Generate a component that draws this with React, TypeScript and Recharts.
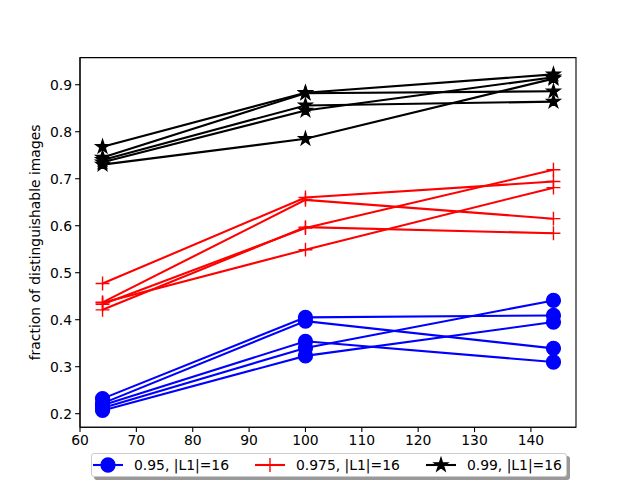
import React from "react";
import { LineChart, Line, XAxis, YAxis, Legend, ReferenceArea } from "recharts";

if (typeof document !== "undefined") {
  document.body.style.margin = "0";
}

// ---- data ----
const xValues = [64, 100, 144];
const xTicks = [60, 70, 80, 90, 100, 110, 120, 130, 140];
const yTicks = [0.2, 0.3, 0.4, 0.5, 0.6, 0.7, 0.8, 0.9];
const xDomain = [60, 148];
const yDomain = [0.17125, 0.95775];

const blue95 = [
  [0.232, 0.405, 0.409],
  [0.222, 0.397, 0.339],
  [0.218, 0.354, 0.31],
  [0.212, 0.34, 0.441],
  [0.207, 0.323, 0.395],
];
const red975 = [
  [0.477, 0.66, 0.694],
  [0.437, 0.655, 0.615],
  [0.433, 0.595, 0.719],
  [0.421, 0.597, 0.584],
  [0.436, 0.549, 0.681],
];
const black99 = [
  [0.768, 0.883, 0.922],
  [0.745, 0.882, 0.886],
  [0.74, 0.856, 0.864],
  [0.735, 0.845, 0.916],
  [0.73, 0.785, 0.913],
];
const legendLabels = ["0.95, |L1|=16", "0.975, |L1|=16", "0.99, |L1|=16"];
const yLabel = "fraction of distinguishable images";

const FONT = "'DejaVu Sans', sans-serif";
const MS = 6.94; // marker half-size in px
const MEW = 1.39;

type MarkerKind = "circle" | "plus" | "star";

function Marker({ kind, cx, cy, color }: { kind: MarkerKind; cx: number; cy: number; color: string }) {
  if (kind === "circle") {
    return <circle cx={cx} cy={cy} r={MS} fill={color} stroke={color} strokeWidth={MEW} />;
  }
  if (kind === "plus") {
    return (
      <g stroke={color} strokeWidth={MEW}>
        <line x1={cx - MS} y1={cy} x2={cx + MS} y2={cy} />
        <line x1={cx} y1={cy - MS} x2={cx} y2={cy + MS} />
      </g>
    );
  }
  const pts: string[] = [];
  const inner = MS * 0.381966;
  for (let i = 0; i < 10; i++) {
    const r = i % 2 === 0 ? MS : inner;
    const a = -Math.PI / 2 + (i * Math.PI) / 5;
    pts.push(`${cx + r * Math.cos(a)},${cy + r * Math.sin(a)}`);
  }
  return <polygon points={pts.join(" ")} fill={color} stroke={color} strokeWidth={MEW} strokeLinejoin="miter" />;
}

const groups: { rows: number[][]; color: string; kind: MarkerKind; label: string }[] = [
  { rows: blue95, color: "#0000ff", kind: "circle", label: legendLabels[0] },
  { rows: red975, color: "#ff0000", kind: "plus", label: legendLabels[1] },
  { rows: black99, color: "#000000", kind: "star", label: legendLabels[2] },
];

const toPoints = (vals: number[]) => vals.map((v, i) => ({ x: xValues[i], y: v }));

function YLabel(props: any) {
  const vb = props.viewBox || { x: 0, y: 57.6, width: 80, height: 369.6 };
  const cx = vb.x + 35;
  const cy = vb.y + vb.height / 2;
  return (
    <text
      x={cx}
      y={cy}
      transform={`rotate(-90 ${cx} ${cy})`}
      textAnchor="middle"
      dominantBaseline="central"
      fontFamily={FONT}
      fontSize={13.9}
      fill="#000"
    >
      {yLabel}
    </text>
  );
}

function LegendBox() {
  return (
    <div
      style={{
        boxSizing: "border-box",
        width: 476,
        height: 24,
        border: "1px solid #cccccc",
        borderRadius: 3,
        background: "#fff",
        boxShadow: "3px 3px 0 rgba(0,0,0,0.4)",
        display: "flex",
        alignItems: "center",
        paddingLeft: 1,
        fontFamily: FONT,
        fontSize: 13.9,
        color: "#000",
        whiteSpace: "nowrap",
      }}
    >
      {groups.map((g, i) => (
        <div key={i} style={{ display: "flex", alignItems: "center", marginRight: i < 2 ? 26 : 0 }}>
          <svg width={30} height={20} style={{ overflow: "visible" }}>
            <line x1={0} y1={10} x2={30} y2={10} stroke={g.color} strokeWidth={2.08} />
            <Marker kind={g.kind} cx={15} cy={10} color={g.color} />
          </svg>
          <span style={{ marginLeft: 11 }}>{g.label}</span>
        </div>
      ))}
    </div>
  );
}

export default function App() {
  const axisStroke = { stroke: "#000", strokeWidth: 1.1 };
  const tickStyle = { fill: "#000", fontSize: 13.9, fontFamily: FONT };
  return (
    <div style={{ width: 640, height: 480, background: "#fff", position: "relative" }}>
      <LineChart width={640} height={480} margin={{ top: 57.6, right: 64, bottom: 0, left: 0 }}>
        <XAxis
          type="number"
          dataKey="x"
          domain={xDomain}
          ticks={xTicks}
          interval={0}
          allowDataOverflow
          height={52.8}
          tickSize={4.9}
          tickMargin={3}
          axisLine={axisStroke}
          tickLine={axisStroke}
          tick={tickStyle}
        />
        <YAxis
          type="number"
          domain={yDomain}
          ticks={yTicks}
          interval={0}
          allowDataOverflow
          width={80}
          tickSize={4.9}
          tickMargin={3}
          tickFormatter={(v: number) => v.toFixed(1)}
          axisLine={axisStroke}
          tickLine={axisStroke}
          tick={tickStyle}
          label={<YLabel />}
        />
        {groups.map((g, gi) =>
          g.rows.map((row, ri) => (
            <Line
              key={`${gi}-${ri}`}
              data={toPoints(row)}
              dataKey="y"
              type="linear"
              stroke={g.color}
              strokeWidth={2.08}
              isAnimationActive={false}
              legendType="none"
              dot={(p: any) =>
                p.cx == null ? (
                  <g key={p.index} />
                ) : (
                  <Marker key={p.index} kind={g.kind} cx={p.cx} cy={p.cy} color={g.color} />
                )
              }
              activeDot={false}
            />
          ))
        )}
        <ReferenceArea
          x1={xDomain[0]}
          x2={xDomain[1]}
          y1={yDomain[0]}
          y2={yDomain[1]}
          fill="none"
          fillOpacity={0}
          stroke="#000"
          strokeWidth={1.1}
          ifOverflow="visible"
        />
        <Legend
          layout="horizontal"
          verticalAlign="middle"
          align="center"
          width={480}
          wrapperStyle={{ left: 91, top: 453, width: 480, height: 26 }}
          content={() => <LegendBox />}
        />
      </LineChart>
    </div>
  );
}
